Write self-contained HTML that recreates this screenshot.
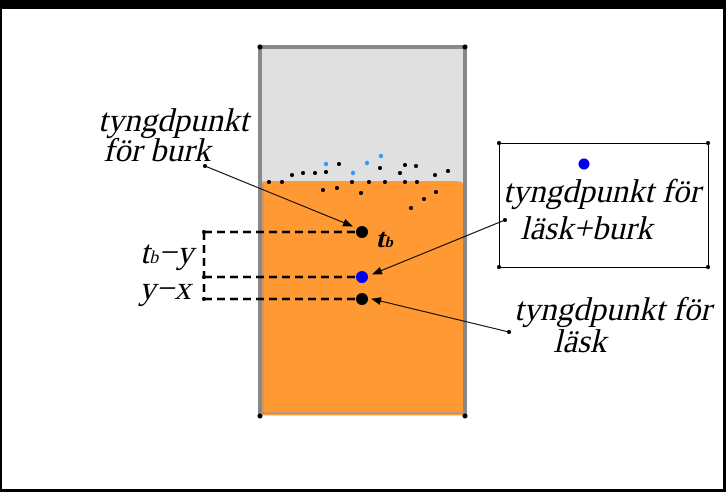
<!DOCTYPE html>
<html><head><style>html,body{margin:0;padding:0;background:#000}svg{display:block}
.t{position:absolute;font-family:"Liberation Serif",serif;font-style:normal;font-size:33px;line-height:30px;color:#000;white-space:nowrap;transform:skewX(-13deg);transform-origin:0 100%}
.t sub{font-size:18px;vertical-align:baseline}</style></head>
<body><div style="position:relative;width:726px;height:492px">
<svg width="726" height="492" viewBox="0 0 726 492" xmlns="http://www.w3.org/2000/svg">
<rect x="0" y="0" width="726" height="492" fill="#000"/>
<rect x="2" y="9" width="721" height="480" fill="#fff"/>
<defs><marker id="a" markerWidth="10" markerHeight="8" refX="9" refY="4" orient="auto" markerUnits="userSpaceOnUse"><path d="M0,0 L10,4 L0,8 Z" fill="#000"/></marker></defs>
<rect x="260" y="47" width="205" height="369" fill="#e0e0e0"/>
<path d="M261,188 Q261,181 268,181 L457,181 Q464,181 464,188 L464,415 L261,415 Z" fill="#ff9933"/>
<path d="M260,416 L260,47 L465,47 L465,416" fill="none" stroke="#888" stroke-width="4"/>
<line x1="260" y1="413" x2="465" y2="413" stroke="#999" stroke-width="1.5"/>
<line x1="263" y1="181" x2="263" y2="413" stroke="#999" stroke-width="1"/>
<g fill="#000"><circle cx="260" cy="47" r="2.5"/><circle cx="465" cy="47" r="2.5"/><circle cx="260" cy="416" r="2.5"/><circle cx="465" cy="416" r="2.5"/></g>
<g fill="#000">
<circle cx="269" cy="182" r="2"/><circle cx="282" cy="182" r="2"/><circle cx="292" cy="175" r="2"/><circle cx="303" cy="173" r="2"/><circle cx="315" cy="173" r="2"/><circle cx="326" cy="172" r="2"/><circle cx="339" cy="164" r="2"/><circle cx="380" cy="168" r="2"/><circle cx="405" cy="165" r="2"/><circle cx="416" cy="166" r="2"/><circle cx="400" cy="173" r="2"/><circle cx="435" cy="175" r="2"/><circle cx="448" cy="171" r="2"/><circle cx="352" cy="182" r="2"/><circle cx="369" cy="182" r="2"/><circle cx="385" cy="182" r="2"/><circle cx="405" cy="182" r="2"/><circle cx="417" cy="182" r="2"/><circle cx="323" cy="190" r="2"/><circle cx="337" cy="188" r="2"/><circle cx="361" cy="193" r="2"/><circle cx="436" cy="192" r="2"/><circle cx="424" cy="199" r="2"/><circle cx="411" cy="208" r="2"/>
</g>
<g fill="#3399ff"><circle cx="326" cy="164" r="2.2"/><circle cx="353" cy="173" r="2.2"/><circle cx="367" cy="163" r="2.2"/><circle cx="381" cy="156" r="2.2"/></g>
<g stroke="#000" stroke-width="2.5" stroke-dasharray="8,5" fill="none">
<line x1="204" y1="232" x2="356" y2="232"/><line x1="204" y1="277" x2="356" y2="277"/><line x1="204" y1="299" x2="356" y2="299"/><line x1="204" y1="232" x2="204" y2="299"/>
</g>
<g fill="#000"><circle cx="204" cy="232" r="2"/><circle cx="204" cy="277" r="2"/><circle cx="204" cy="299" r="2"/></g>
<circle cx="362" cy="232" r="6" fill="#000"/><circle cx="362" cy="277" r="6" fill="#0000ee"/><circle cx="362" cy="299" r="6" fill="#000"/>
<g stroke="#000" stroke-width="1" fill="#000">
<line x1="205" y1="166" x2="352" y2="226" marker-end="url(#a)"/>
<line x1="505" y1="220" x2="373" y2="274" marker-end="url(#a)"/>
<line x1="509" y1="332" x2="372" y2="299" marker-end="url(#a)"/>
</g>
<circle cx="205" cy="166" r="2" fill="#000"/><circle cx="505" cy="220" r="2" fill="#000"/><circle cx="509" cy="332" r="2" fill="#000"/>
<rect x="499.5" y="143.5" width="209" height="124" fill="none" stroke="#000" stroke-width="1"/>
<g fill="#000"><circle cx="499" cy="143" r="2"/><circle cx="708" cy="143" r="2"/><circle cx="499" cy="267" r="2"/><circle cx="708" cy="267" r="2"/></g>
<circle cx="584" cy="164" r="5.5" fill="#0000ee"/>
</svg>
<div class="t" style="left:97px;top:106px">tyngdpunkt</div>
<div class="t" style="left:102px;top:136px">för burk</div>
<div class="t" style="left:502px;top:177px">tyngdpunkt för</div>
<div class="t" style="left:519px;top:214px">läsk+burk</div>
<div class="t" style="left:513px;top:295px">tyngdpunkt för</div>
<div class="t" style="left:552px;top:327px">läsk</div>
<div class="t" style="left:138px;top:238px">t<sub>b</sub>−y</div>
<div class="t" style="left:138px;top:274px">y−x</div>
<div class="t" style="left:373px;top:223px;font-size:27px;font-weight:bold">t<sub style="font-size:15px">b</sub></div>
</div>
</body></html>
